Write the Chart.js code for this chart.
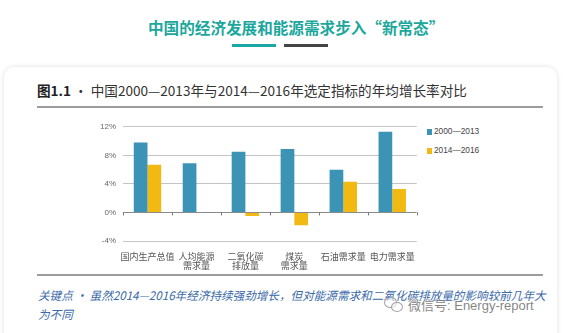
<!DOCTYPE html>
<html><head><meta charset="utf-8">
<script src="https://cdn.jsdelivr.net/npm/chart.js@4.4.1/dist/chart.umd.min.js"></script>
<style>
html,body{margin:0;padding:0;width:565px;height:333px;overflow:hidden;background:#fff;font-family:"Noto Sans CJK SC","Noto Sans",sans-serif;}
#title{position:absolute;left:148px;top:16px;font-size:15.6px;font-weight:700;color:#1ba79c;white-space:nowrap;letter-spacing:0px;}
.bar{position:absolute;top:44px;height:3px;width:44px;}
#card{position:absolute;left:4px;top:67px;width:553px;height:290px;border-radius:10px;background:#fff;box-shadow:0 0 5px rgba(0,0,0,0.13);}
#ftitle{position:absolute;left:37px;top:80px;font-size:13.6px;color:#333;white-space:nowrap;}
#ftitle b{font-weight:700;color:#222;}
.rule{position:absolute;left:37px;width:506px;height:2px;background:#9c9c9c;}
#wrap{position:absolute;left:80px;top:115px;width:346px;height:158px;}
#legend{position:absolute;left:427px;top:125px;font-size:8.3px;color:#444;font-family:"Liberation Sans","DejaVu Sans",sans-serif;}
#legend div{height:19px;line-height:12px;white-space:nowrap;}
#legend span.sw{display:inline-block;width:5px;height:6px;margin-right:2px;vertical-align:-1px;}
#cap{position:absolute;left:38px;top:286px;width:510px;font-size:11.6px;line-height:19px;color:#3a6aa8;font-style:italic;}
#wm{position:absolute;left:408px;top:295px;font-size:13px;color:rgba(110,110,110,0.85);font-family:"Liberation Sans","Noto Sans CJK SC",sans-serif;text-shadow:0 0 2px #fff,0 0 2px #fff;white-space:nowrap;}
.ic{position:absolute;border:1px solid rgba(140,140,140,0.8);border-radius:50%;background:rgba(255,255,255,0.6);}
</style></head>
<body>
<div id="title">中国的经济发展和能源需求步入“新常态”</div>
<div class="bar" style="left:232px;background:#1ba7a6;"></div>
<div class="bar" style="left:284px;background:#444;"></div>
<div id="card"></div>
<div id="ftitle"><b>图1.1</b> · 中国2000—2013年与2014—2016年选定指标的年均增长率对比</div>
<div class="rule" style="top:106px;"></div>
<div id="wrap"><canvas id="c"></canvas></div>
<div id="legend"></div>
<div class="rule" style="top:274px;"></div>
<div id="cap">关键点 · 虽然2014—2016年经济持续强劲增长，但对能源需求和二氧化碳排放量的影响较前几年大为不同</div>
<div class="ic" style="left:384px;top:297px;width:11px;height:9px;"></div>
<div class="ic" style="left:391px;top:302px;width:10px;height:8px;"></div>
<div id="wm">微信号: Energy-report</div>
<script>
const categories = ["国内生产总值", ["人均能源","需求量"], ["二氧化碳","排放量"], ["煤炭","需求量"], "石油需求量", "电力需求量"];
const seriesNames = ["2000—2013", "2014—2016"];
const series2000to2013 = [9.8, 6.9, 8.5, 8.9, 6.0, 11.3];
const series2014to2016 = [6.7, 0.0, -0.5, -1.8, 4.3, 3.3];
const yTickValues = [-4, 0, 4, 8, 12];
const colors = ["#3b94b6", "#f2b913"];

const zeroTicks = {
  id: 'zeroTicks',
  afterDatasetsDraw(chart) {
    const x = chart.scales.x, y = chart.scales.y, ctx = chart.ctx;
    const y0 = y.getPixelForValue(0);
    const n = chart.data.labels.length;
    const w = (x.right - x.left) / n;
    ctx.save();
    ctx.strokeStyle = '#7a7a7a';
    ctx.lineWidth = 1;
    ctx.beginPath();
    for (let i = 0; i <= n; i++) {
      const px = Math.round(x.left + i * w) + 0.5;
      ctx.moveTo(px, y0);
      ctx.lineTo(px, y0 + 3);
    }
    ctx.stroke();
    ctx.restore();
  }
};

const datasets = [series2000to2013, series2014to2016].map((d, i) => ({
  label: seriesNames[i], data: d, backgroundColor: colors[i], borderWidth: 0,
  categoryPercentage: 0.56, barPercentage: 1.0
}));

const lg = document.getElementById('legend');
datasets.forEach(ds => {
  const el = document.createElement('div');
  el.innerHTML = '<span class="sw" style="background:' + ds.backgroundColor + '"></span>' + ds.label;
  lg.appendChild(el);
});

new Chart(document.getElementById('c'), {
  type: 'bar',
  data: { labels: categories, datasets },
  plugins: [zeroTicks],
  options: {
    responsive: true, maintainAspectRatio: false, animation: false,
    layout: { padding: { top: 10, right: 3, left: 0, bottom: 0 } },
    plugins: { legend: { display: false }, tooltip: { enabled: false } },
    scales: {
      x: {
        grid: { display: false, drawTicks: false },
        border: { display: false },
        ticks: { color: '#555', font: { size: 9, family: '"Noto Sans CJK SC", sans-serif', lineHeight: 1.0 }, padding: 11, maxRotation: 0, autoSkip: false },
        afterFit(s) { s.height = 32; }
      },
      y: {
        min: -4, max: 12,
        afterBuildTicks(s) { s.ticks = yTickValues.map(v => ({ value: v })); },
        grid: {
          drawTicks: false,
          color: c => c.tick && c.tick.value === 0 ? '#8a8a8a' : '#c4c4c4',
          lineWidth: 1
        },
        border: { display: false },
        ticks: { color: '#666', font: { size: 8, family: '"Liberation Sans", sans-serif' }, padding: 7, callback: v => v + '%' },
        afterFit(s) { s.width = 43; }
      }
    }
  }
});
</script>
</body></html>
